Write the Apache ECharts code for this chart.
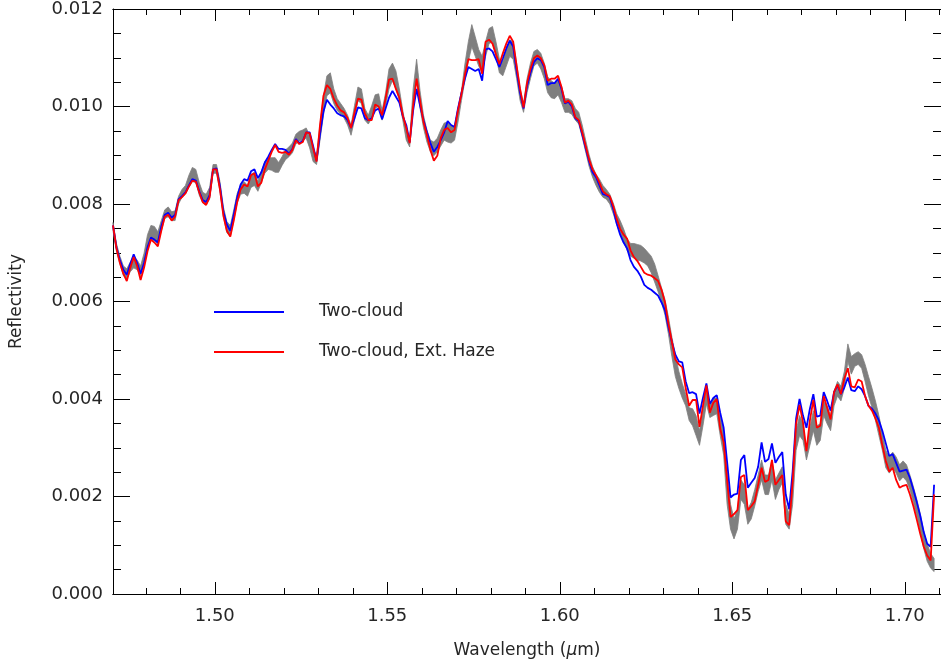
<!DOCTYPE html>
<html>
<head>
<meta charset="utf-8">
<script src="https://cdn.jsdelivr.net/npm/echarts@6/dist/echarts.min.js"></script>
<style>
  html, body { margin: 0; padding: 0; background: #fff; }
  #chart { width: 941px; height: 664px; }
</style>
</head>
<body>
<div id="chart"></div>
<script>
// Spectral sampling: 1 nm steps starting at 1.4705 um
const WL_START = 1.4705;
const WL_STEP = 0.001;

// Reflectivity values below are in units of 1e-3
const twoCloud = [
  7.56, 7.11, 6.85, 6.65, 6.55, 6.77, 6.97, 6.79, 6.57, 6.79,
  7.11, 7.31, 7.27, 7.21, 7.54, 7.78, 7.82, 7.72, 7.78, 8.10,
  8.16, 8.24, 8.38, 8.51, 8.48, 8.26, 8.08, 8.04, 8.18, 8.71,
  8.73, 8.36, 7.84, 7.58, 7.45, 7.78, 8.14, 8.40, 8.51, 8.48,
  8.67, 8.71, 8.53, 8.65, 8.85, 8.97, 9.11, 9.23, 9.13, 9.13,
  9.11, 9.03, 9.13, 9.33, 9.25, 9.29, 9.47, 9.47, 9.19, 8.89,
  9.43, 9.90, 10.14, 10.04, 9.96, 9.86, 9.82, 9.80, 9.72, 9.56,
  9.76, 9.98, 9.96, 9.76, 9.72, 9.76, 9.92, 9.96, 9.74, 9.96,
  10.18, 10.32, 10.20, 10.08, 9.80, 9.62, 9.27, 9.92, 10.36, 10.02,
  9.72, 9.47, 9.25, 9.07, 9.17, 9.31, 9.47, 9.70, 9.62, 9.58,
  9.96, 10.28, 10.57, 10.81, 10.77, 10.73, 10.77, 10.53, 11.17, 11.19,
  11.13, 10.97, 10.81, 10.99, 11.19, 11.35, 11.23, 10.73, 10.28, 9.96,
  10.42, 10.69, 10.91, 10.99, 10.95, 10.81, 10.44, 10.48, 10.48, 10.57,
  10.36, 10.06, 10.10, 10.00, 9.76, 9.70, 9.43, 9.15, 8.87, 8.65,
  8.55, 8.38, 8.20, 8.18, 8.14, 7.90, 7.60, 7.37, 7.21, 7.09,
  6.85, 6.71, 6.63, 6.51, 6.34, 6.28, 6.24, 6.18, 6.12, 5.98,
  5.82, 5.47, 5.17, 4.91, 4.77, 4.75, 4.36, 4.12, 4.14, 4.10,
  3.70, 4.02, 4.32, 3.90, 4.02, 4.08, 3.72, 3.41, 2.71, 1.98,
  2.04, 2.06, 2.75, 2.85, 2.18, 2.28, 2.38, 2.61, 3.11, 2.71,
  2.77, 3.09, 2.69, 2.81, 2.91, 2.04, 1.74, 2.51, 3.60, 4.00,
  3.66, 3.41, 3.80, 4.10, 3.64, 3.66, 4.14, 3.96, 3.76, 4.14,
  4.28, 4.10, 4.24, 4.44, 4.18, 4.16, 4.26, 4.20, 4.06, 3.86,
  3.80, 3.70, 3.56, 3.35, 3.09, 2.83, 2.87, 2.69, 2.51, 2.53,
  2.55, 2.38, 2.14, 1.88, 1.60, 1.27, 1.03, 0.97, 2.24
];

const twoCloudHaze = [
  7.56, 7.09, 6.79, 6.57, 6.42, 6.69, 6.91, 6.73, 6.44, 6.69,
  7.03, 7.27, 7.21, 7.13, 7.45, 7.74, 7.78, 7.66, 7.74, 8.08,
  8.14, 8.22, 8.36, 8.48, 8.46, 8.24, 8.04, 7.98, 8.14, 8.71,
  8.71, 8.30, 7.76, 7.45, 7.33, 7.66, 8.04, 8.30, 8.40, 8.36,
  8.59, 8.63, 8.36, 8.44, 8.71, 8.89, 9.07, 9.21, 9.07, 9.05,
  9.07, 9.01, 9.11, 9.31, 9.23, 9.27, 9.47, 9.45, 9.15, 8.87,
  9.62, 10.22, 10.44, 10.36, 10.16, 10.02, 9.92, 9.88, 9.76, 9.56,
  9.88, 10.16, 10.14, 9.86, 9.72, 9.72, 10.04, 10.00, 9.82, 10.16,
  10.55, 10.57, 10.36, 10.18, 9.82, 9.56, 9.25, 10.02, 10.57, 10.12,
  9.68, 9.41, 9.11, 8.89, 8.99, 9.35, 9.52, 9.56, 9.47, 9.52,
  9.92, 10.26, 10.65, 10.97, 10.95, 10.95, 10.97, 10.67, 11.33, 11.37,
  11.29, 11.07, 10.87, 11.09, 11.29, 11.45, 11.33, 10.83, 10.36, 9.98,
  10.48, 10.77, 10.99, 11.05, 10.99, 10.85, 10.53, 10.57, 10.57, 10.63,
  10.40, 10.08, 10.12, 10.04, 9.78, 9.72, 9.47, 9.19, 8.91, 8.71,
  8.59, 8.44, 8.26, 8.20, 8.16, 7.96, 7.70, 7.49, 7.37, 7.29,
  7.05, 6.91, 6.83, 6.71, 6.59, 6.55, 6.53, 6.48, 6.42, 6.24,
  5.98, 5.54, 5.17, 4.81, 4.71, 4.65, 4.22, 3.86, 3.98, 3.98,
  3.43, 3.86, 4.28, 3.72, 3.92, 4.00, 3.39, 3.11, 2.34, 1.58,
  1.64, 1.72, 2.40, 2.44, 1.72, 1.80, 1.90, 2.24, 2.59, 2.30,
  2.34, 2.75, 2.24, 2.34, 2.44, 1.49, 1.41, 2.30, 3.49, 3.88,
  3.52, 2.93, 3.56, 3.98, 3.41, 3.45, 4.06, 3.82, 3.58, 4.14,
  4.30, 4.10, 4.42, 4.63, 4.26, 4.24, 4.40, 4.36, 4.06, 3.86,
  3.76, 3.60, 3.41, 3.05, 2.73, 2.51, 2.59, 2.34, 2.18, 2.22,
  2.24, 2.04, 1.80, 1.52, 1.23, 0.97, 0.79, 0.69, 2.04
];

// Observed spectrum: upper and lower edge of the uncertainty band
const observedHigh = [
  7.62, 7.19, 6.93, 6.73, 6.67, 6.81, 6.93, 6.85, 6.73, 6.99,
  7.37, 7.56, 7.54, 7.43, 7.66, 7.88, 7.94, 7.84, 7.86, 8.16,
  8.30, 8.38, 8.59, 8.75, 8.71, 8.44, 8.24, 8.20, 8.34, 8.81,
  8.81, 8.46, 7.94, 7.64, 7.56, 7.88, 8.22, 8.40, 8.46, 8.38,
  8.61, 8.65, 8.46, 8.67, 8.87, 8.95, 8.95, 8.95, 8.85, 8.97,
  9.11, 9.17, 9.25, 9.43, 9.49, 9.52, 9.56, 9.41, 9.11, 9.01,
  9.62, 10.22, 10.63, 10.69, 10.36, 10.16, 10.06, 9.96, 9.82, 9.62,
  10.02, 10.40, 10.36, 9.96, 9.82, 10.02, 10.24, 10.26, 9.92, 10.28,
  10.77, 10.89, 10.73, 10.36, 9.92, 9.52, 9.35, 10.36, 10.97, 10.32,
  9.82, 9.52, 9.31, 9.27, 9.35, 9.52, 9.66, 9.68, 9.60, 9.60,
  9.96, 10.32, 10.87, 11.33, 11.68, 11.43, 11.17, 11.03, 11.33, 11.60,
  11.64, 11.33, 10.97, 10.93, 11.17, 11.37, 11.33, 10.89, 10.36, 10.06,
  10.57, 10.89, 11.13, 11.17, 11.09, 10.89, 10.61, 10.53, 10.48, 10.57,
  10.42, 10.16, 10.16, 10.12, 9.96, 9.88, 9.62, 9.31, 9.01, 8.77,
  8.61, 8.51, 8.38, 8.30, 8.20, 8.02, 7.80, 7.66, 7.49, 7.29,
  7.19, 7.19, 7.17, 7.15, 7.09, 7.01, 6.93, 6.77, 6.53, 6.28,
  6.04, 5.68, 5.27, 4.91, 4.57, 4.32, 4.10, 3.82, 3.80, 3.66,
  3.35, 3.76, 4.22, 3.90, 4.02, 4.02, 3.66, 3.35, 2.55, 1.84,
  1.54, 1.74, 2.34, 2.24, 1.74, 1.88, 2.14, 2.44, 2.75, 2.44,
  2.44, 2.75, 2.34, 2.48, 2.61, 1.84, 1.64, 2.24, 3.35, 3.66,
  3.49, 2.95, 3.41, 3.76, 3.45, 3.49, 3.96, 3.86, 3.66, 4.16,
  4.36, 4.26, 4.57, 5.13, 4.87, 4.93, 4.97, 4.91, 4.71, 4.46,
  4.22, 3.96, 3.66, 3.31, 2.95, 2.81, 2.91, 2.81, 2.65, 2.73,
  2.65, 2.44, 2.20, 1.94, 1.64, 1.27, 1.03, 0.83, 0.73
];

const observedLow = [
  7.45, 7.03, 6.77, 6.53, 6.46, 6.61, 6.69, 6.65, 6.53, 6.77,
  7.09, 7.25, 7.25, 7.17, 7.45, 7.70, 7.74, 7.66, 7.66, 8.00,
  8.14, 8.20, 8.34, 8.46, 8.44, 8.18, 8.02, 7.98, 8.10, 8.63,
  8.63, 8.26, 7.74, 7.41, 7.33, 7.66, 8.02, 8.20, 8.22, 8.16,
  8.34, 8.38, 8.26, 8.44, 8.63, 8.71, 8.69, 8.65, 8.65, 8.79,
  8.91, 8.97, 9.05, 9.23, 9.29, 9.31, 9.35, 9.15, 8.87, 8.81,
  9.31, 9.82, 10.22, 10.28, 10.06, 9.92, 9.84, 9.76, 9.62, 9.41,
  9.72, 10.12, 10.06, 9.72, 9.64, 9.76, 9.96, 10.00, 9.72, 10.00,
  10.36, 10.53, 10.36, 10.12, 9.72, 9.31, 9.17, 10.12, 10.53, 9.96,
  9.56, 9.27, 9.07, 8.99, 9.07, 9.19, 9.31, 9.27, 9.25, 9.31,
  9.68, 10.12, 10.53, 10.93, 11.23, 11.03, 10.83, 10.69, 11.03, 11.29,
  11.33, 11.03, 10.69, 10.63, 10.83, 11.03, 10.97, 10.57, 10.12, 9.88,
  10.28, 10.57, 10.83, 10.89, 10.77, 10.57, 10.28, 10.18, 10.16, 10.24,
  10.08, 9.88, 9.88, 9.84, 9.72, 9.64, 9.37, 9.07, 8.77, 8.55,
  8.38, 8.24, 8.14, 8.10, 8.00, 7.80, 7.58, 7.39, 7.23, 7.05,
  6.93, 6.89, 6.85, 6.83, 6.79, 6.73, 6.59, 6.40, 6.20, 5.98,
  5.72, 5.33, 4.87, 4.46, 4.22, 4.02, 3.86, 3.56, 3.45, 3.25,
  3.05, 3.45, 3.90, 3.62, 3.66, 3.70, 3.25, 2.85, 1.84, 1.33,
  1.13, 1.33, 1.94, 1.84, 1.43, 1.54, 1.80, 2.10, 2.34, 2.04,
  2.04, 2.34, 1.94, 2.14, 2.28, 1.43, 1.33, 1.84, 2.95, 3.25,
  3.15, 2.75, 3.05, 3.35, 3.05, 3.15, 3.66, 3.49, 3.35, 3.86,
  4.06, 3.96, 4.22, 4.77, 4.51, 4.67, 4.71, 4.63, 4.36, 4.06,
  3.82, 3.56, 3.25, 2.95, 2.59, 2.48, 2.59, 2.48, 2.32, 2.40,
  2.32, 2.14, 1.88, 1.60, 1.27, 0.93, 0.67, 0.53, 0.46
];

const xMajorTicks = [1.50, 1.55, 1.60, 1.65, 1.70];
const xMinorTicks = [1.48, 1.49, 1.51, 1.52, 1.53, 1.54, 1.56, 1.57, 1.58, 1.59,
                     1.61, 1.62, 1.63, 1.64, 1.66, 1.67, 1.68, 1.69, 1.71];
const seriesNames = ['Two-cloud', 'Two-cloud, Ext. Haze'];

const UNIT = 1e-3;
const X_MIN = 1.4705, X_MAX = 1.7105;
const wavelengths = twoCloud.map((_, i) => +(WL_START + i * WL_STEP).toFixed(4));
const pairs = arr => arr.map((v, i) => [wavelengths[i], v * UNIT]);
const bandData = wavelengths.map((w, i) => [w, observedLow[i] * UNIT, observedHigh[i] * UNIT]);

const FONT = 'DejaVu Sans';
const TXT = '#262626';
const black = { color: '#000', width: 1 };

function xAxisDef(pos, ticks, len, withLabels) {
  return {
    type: 'value', position: pos, min: X_MIN, max: X_MAX,
    axisLine: { show: true, onZero: false, lineStyle: black },
    axisTick: { show: true, inside: true, length: len, lineStyle: black, customValues: ticks },
    axisLabel: withLabels
      ? { show: true, customValues: ticks, margin: 13, fontFamily: FONT, fontSize: 18, color: TXT,
          formatter: v => v.toFixed(2) }
      : { show: false },
    splitLine: { show: false }
  };
}

function yAxisDef(pos, withLabels) {
  return {
    type: 'value', position: pos, min: 0, max: 0.012, interval: 0.002,
    axisLine: { show: true, onZero: false, lineStyle: black },
    axisTick: { show: true, inside: true, length: 17, lineStyle: black },
    minorTick: { show: true, splitNumber: 4, length: 8, lineStyle: black },
    axisLabel: withLabels
      ? { show: true, margin: 10, fontFamily: FONT, fontSize: 18, color: TXT, formatter: v => v.toFixed(3) }
      : { show: false },
    splitLine: { show: false },
    minorSplitLine: { show: false }
  };
}

const xBottom = xAxisDef('bottom', xMajorTicks, 12, true);
xBottom.name = 'Wavelength ({mu|μ}m)';
xBottom.nameLocation = 'middle';
xBottom.nameGap = 48;
xBottom.nameTextStyle = {
  fontFamily: FONT, fontSize: 17, color: TXT,
  rich: { mu: { fontFamily: FONT, fontSize: 17, fontStyle: 'italic', color: TXT } }
};

const yLeft = yAxisDef('left', true);
yLeft.name = 'Reflectivity';
yLeft.nameLocation = 'middle';
yLeft.nameGap = 88;
yLeft.nameTextStyle = { fontFamily: FONT, fontSize: 17, color: TXT };

const chart = echarts.init(document.getElementById('chart'), null, { renderer: 'canvas' });
chart.setOption({
  animation: false,
  backgroundColor: '#fff',
  grid: { left: 110, right: -6, top: 7, bottom: 63 },
  xAxis: [
    xBottom,
    xAxisDef('bottom', xMinorTicks, 6, false),
    xAxisDef('top', xMajorTicks, 12, false),
    xAxisDef('top', xMinorTicks, 6, false)
  ],
  yAxis: [yLeft, yAxisDef('right', false)],
  legend: {
    show: true,
    data: seriesNames,
    orient: 'vertical',
    left: 214, top: 302,
    padding: 0,
    icon: 'rect',
    itemWidth: 70, itemHeight: 2, itemGap: 20,
    formatter: name => '{gap|}' + name,
    textStyle: { fontFamily: FONT, fontSize: 17, color: TXT, lineHeight: 20, rich: { gap: { width: 30 } } }
  },
  series: [
    {
      type: 'custom',
      name: 'observed',
      xAxisIndex: 0, yAxisIndex: 0,
      clip: true,
      silent: true,
      encode: { x: 0, y: [1, 2] },
      data: bandData,
      renderItem: function (params, api) {
        if (params.dataIndex !== 0) return null;
        const pts = [];
        for (let i = 0; i < bandData.length; i++) pts.push(api.coord([bandData[i][0], bandData[i][2]]));
        for (let i = bandData.length - 1; i >= 0; i--) pts.push(api.coord([bandData[i][0], bandData[i][1]]));
        return {
          type: 'polygon',
          shape: { points: pts },
          style: { fill: '#7f7f7f', stroke: '#7f7f7f', lineWidth: 0.8 }
        };
      },
      z: 1
    },
    {
      type: 'line', name: seriesNames[0],
      data: pairs(twoCloud),
      symbol: 'none', showSymbol: false,
      lineStyle: { color: '#0000ff', width: 1.8 },
      itemStyle: { color: '#0000ff' },
      z: 3
    },
    {
      type: 'line', name: seriesNames[1],
      data: pairs(twoCloudHaze),
      symbol: 'none', showSymbol: false,
      lineStyle: { color: '#ff0000', width: 1.8 },
      itemStyle: { color: '#ff0000' },
      z: 4
    }
  ]
});
</script>
</body>
</html>
